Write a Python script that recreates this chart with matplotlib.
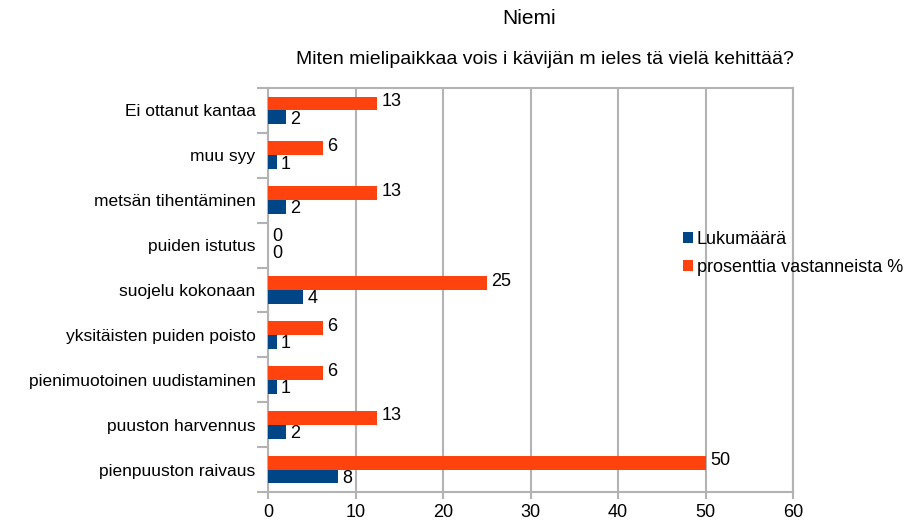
import numpy as np
import matplotlib.pyplot as plt

plt.rcParams['font.family'] = ['Liberation Sans', 'DejaVu Sans']

# kategoriat alhaalta ylös
categories = ["pienpuuston raivaus", "puuston harvennus", "pienimuotoinen uudistaminen",
              "yksitäisten puiden poisto", "suojelu kokonaan", "puiden istutus",
              "metsän tihentäminen", "muu syy", "Ei ottanut kantaa"]
lukumaara = [8, 2, 1, 1, 4, 0, 2, 1, 2]
prosentti = [50, 12.5, 6.25, 6.25, 25, 0, 12.5, 6.25, 12.5]
prosentti_labels = ["50", "13", "6", "6", "25", "0", "13", "6", "13"]
xticks = [0, 10, 20, 30, 40, 50, 60]

BLUE = "#004586"
ORANGE = "#ff420e"
FS = 13

fig = plt.figure(figsize=(9.08, 5.21), dpi=100)
ax = fig.add_axes([268 / 908, 1 - 492 / 521, (793 - 268) / 908, (492 - 88) / 521])

y = np.arange(len(categories))
h = 0.31
ax.barh(y - h / 2, lukumaara, height=h, color=BLUE, label="Lukumäärä", zorder=3)
ax.barh(y + h / 2, prosentti, height=h, color=ORANGE, label="prosenttia vastanneista %", zorder=3)

for yi, v in zip(y, lukumaara):
    ax.text(v + 0.5, yi - h / 2 - 0.04, str(v), va="center", ha="left", fontsize=FS, zorder=4)
for yi, v, s in zip(y, prosentti, prosentti_labels):
    ax.text(v + 0.5, yi + h / 2 + 0.04, s, va="center", ha="left", fontsize=FS, zorder=4)

ax.set_xlim(0, 60)
ax.set_ylim(-0.5, len(categories) - 0.5)
ax.set_xticks(xticks)
ax.set_yticks(y)
ax.set_yticklabels(categories, fontsize=12.5)
ax.set_yticks(np.arange(-0.5, len(categories), 1), minor=True)
ax.tick_params(axis="y", which="major", length=0, pad=9)
ax.tick_params(axis="y", which="minor", length=8, color="#b3b3b3", width=1.5)
ax.tick_params(axis="x", length=5, color="#b3b3b3", width=1.5, labelsize=FS)
ax.xaxis.grid(True, color="#b3b3b3", linewidth=1.5, zorder=0)
for sp in ax.spines.values():
    sp.set_color("#b3b3b3")
    sp.set_linewidth(1.5)

fig.text(529 / 908, 1 - 18 / 521, "Niemi", ha="center", va="center", fontsize=15)
fig.text(545 / 908, 1 - 60 / 521, "Miten mielipaikkaa vois i kävijän m ieles tä vielä kehittää?",
         ha="center", va="center", fontsize=14)

ax.legend(loc="center left", bbox_to_anchor=((676 - 268) / (793 - 268), 0.59),
          frameon=False, fontsize=13, handlelength=0.55, handleheight=0.55,
          handletextpad=0.2, labelspacing=0.6, borderaxespad=0)

fig.savefig("out.png", dpi=100)
